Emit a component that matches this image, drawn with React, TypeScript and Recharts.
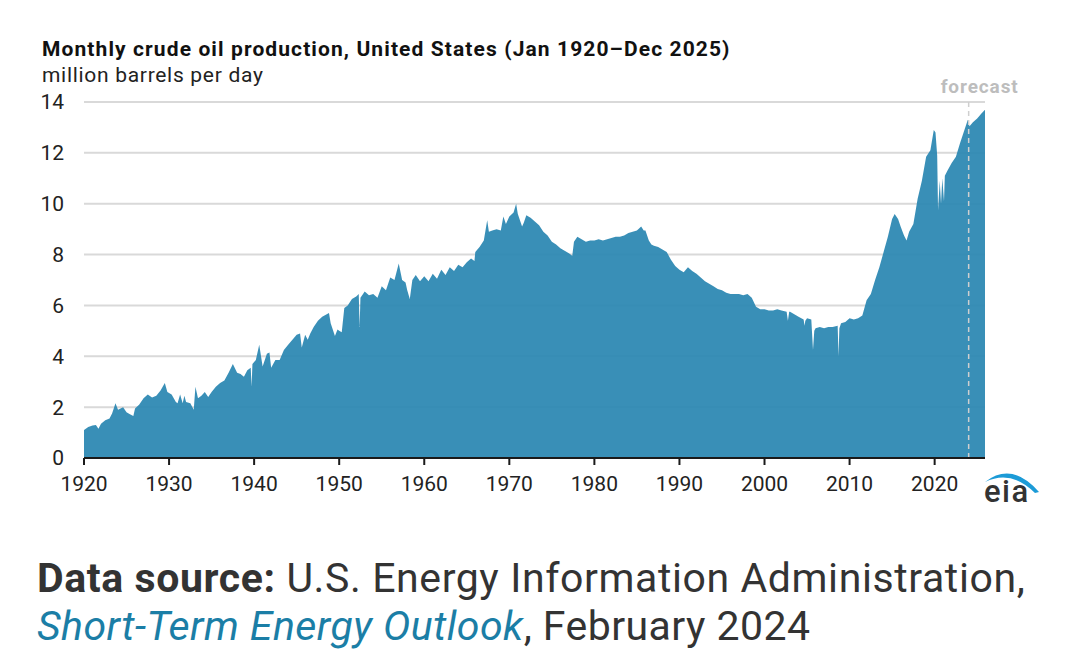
import React from 'react';
import {
  AreaChart,
  Area,
  XAxis,
  YAxis,
  CartesianGrid,
  ReferenceLine,
} from 'recharts';

// decimal years / million barrels per day
const years1920s = [
  1920.0, 1920.5, 1921.0, 1921.4, 1921.7, 1922.0, 1922.5, 1923.0, 1923.3, 1923.7,
  1924.0, 1924.3, 1924.6, 1925.0, 1925.4, 1925.8, 1926.0, 1926.5, 1927.0, 1927.5,
  1928.0, 1928.5, 1929.0, 1929.5, 1929.8, 1930.3, 1930.8, 1931.0, 1931.3, 1931.6,
  1931.8, 1932.0, 1932.5, 1932.9, 1933.1, 1933.4, 1933.8, 1934.2, 1934.6, 1935.0,
  1935.5, 1936.0, 1936.5, 1937.0, 1937.5, 1938.0, 1938.4, 1938.8, 1939.2, 1939.6,
  1939.7, 1939.8, 1940.2, 1940.6, 1941.0, 1941.5, 1941.8, 1942.0, 1942.5, 1943.0,
  1943.5, 1944.0, 1944.5, 1945.0, 1945.4, 1945.6, 1946.0, 1946.3, 1946.6, 1947.0,
  1947.5, 1948.0, 1948.8, 1949.0, 1949.5, 1949.8,
];
const prod1920s = [
  1.1, 1.22, 1.28, 1.3, 1.15, 1.35, 1.48, 1.55, 1.75, 2.15,
  1.9, 1.95, 2.0, 1.8, 1.72, 1.65, 1.95, 2.1, 2.35, 2.5,
  2.38, 2.45, 2.65, 2.95, 2.6, 2.5, 2.2, 2.15, 2.5, 2.15,
  2.45, 2.2, 2.15, 1.9, 2.8, 2.35, 2.45, 2.6, 2.4, 2.6,
  2.8, 2.95, 3.05, 3.35, 3.7, 3.35, 3.3, 3.2, 3.45, 3.55,
  2.8, 3.7, 3.85, 4.45, 3.6, 4.1, 4.15, 3.55, 3.85, 3.85,
  4.25, 4.45, 4.65, 4.85, 4.9, 4.35, 4.85, 4.65, 4.9, 5.15,
  5.4, 5.55, 5.7, 5.3, 4.8, 5.05,
];

const years1950s = [
  1950.0, 1950.3, 1950.6, 1951.0, 1951.5, 1952.0, 1952.3, 1952.4, 1952.5, 1953.0,
  1953.5, 1954.0, 1954.5, 1955.0, 1955.5, 1956.0, 1956.5, 1957.0, 1957.4, 1957.8,
  1958.0, 1958.3, 1958.6, 1959.0, 1959.5, 1960.0, 1960.5, 1961.0, 1961.5, 1962.0,
  1962.5, 1963.0, 1963.5, 1964.0, 1964.5, 1965.0, 1965.5, 1965.9, 1966.0, 1966.5,
  1967.0, 1967.4, 1967.6, 1968.0, 1968.5, 1969.0, 1969.3, 1969.6, 1970.0, 1970.5,
  1970.8, 1971.0, 1971.5, 1971.7, 1972.0, 1972.5, 1973.0, 1973.5, 1974.0, 1974.5,
  1975.0, 1975.5, 1976.0, 1976.5, 1977.0, 1977.4, 1977.6, 1978.0, 1978.5, 1979.0,
  1979.5, 1980.0, 1980.5, 1981.0, 1981.5, 1982.0, 1982.5, 1983.0, 1983.5, 1984.0,
  1984.5, 1985.0, 1985.5, 1985.8,
];
const prod1950s = [
  5.0, 4.95, 5.9, 6.0, 6.25, 6.35, 6.45, 5.15, 6.3, 6.55,
  6.4, 6.45, 6.3, 6.75, 6.6, 7.1, 7.0, 7.65, 7.0, 6.9,
  6.6, 6.25, 7.0, 7.2, 6.95, 7.15, 6.95, 7.25, 7.05, 7.4,
  7.2, 7.5, 7.35, 7.6, 7.5, 7.7, 7.85, 7.75, 8.1, 8.3,
  8.55, 9.35, 8.9, 8.95, 9.0, 8.95, 9.5, 9.2, 9.5, 9.65,
  10.0, 9.6, 9.1, 9.25, 9.55, 9.45, 9.3, 9.15, 8.9, 8.75,
  8.5, 8.4, 8.25, 8.15, 8.05, 7.95, 8.5, 8.7, 8.6, 8.5,
  8.55, 8.55, 8.6, 8.55, 8.6, 8.65, 8.7, 8.7, 8.75, 8.85,
  8.9, 8.95, 9.1, 8.95,
];

const years1986on = [
  1986.0, 1986.4, 1986.7, 1987.0, 1987.5, 1988.0, 1988.5, 1989.0, 1989.5, 1990.0,
  1990.5, 1991.0, 1991.5, 1992.0, 1992.5, 1993.0, 1993.5, 1994.0, 1994.5, 1995.0,
  1995.5, 1996.0, 1996.5, 1997.0, 1997.5, 1998.0, 1998.5, 1999.0, 1999.5, 2000.0,
  2000.5, 2001.0, 2001.5, 2002.0, 2002.6, 2002.75, 2002.9, 2003.0, 2003.5, 2004.0,
  2004.6, 2004.7, 2004.8, 2005.0, 2005.5, 2005.7, 2005.85, 2006.0, 2006.5, 2007.0,
  2007.5, 2008.0, 2008.6, 2008.7, 2008.8, 2009.0, 2009.5, 2010.0, 2010.5, 2011.0,
  2011.5, 2012.0, 2012.5, 2013.0, 2013.5, 2014.0, 2014.5, 2015.0, 2015.3, 2015.7,
  2016.0, 2016.4, 2016.7, 2017.0, 2017.5, 2018.0, 2018.5, 2019.0, 2019.5, 2019.9,
  2020.1, 2020.3, 2020.4, 2020.6, 2020.75, 2020.9, 2021.1, 2021.2, 2021.5, 2022.0,
  2022.5, 2023.0, 2023.5, 2023.9, 2024.1, 2024.5, 2025.0, 2025.5, 2025.92,
];
const prod1986on = [
  8.95, 8.55, 8.4, 8.35, 8.3, 8.2, 8.1, 7.8, 7.55, 7.4,
  7.3, 7.5, 7.35, 7.25, 7.1, 6.95, 6.85, 6.75, 6.65, 6.6,
  6.5, 6.45, 6.45, 6.45, 6.4, 6.45, 6.3, 5.95, 5.85, 5.85,
  5.8, 5.8, 5.85, 5.8, 5.75, 5.4, 5.75, 5.75, 5.65, 5.55,
  5.45, 5.2, 5.4, 5.5, 5.45, 4.25, 5.0, 5.1, 5.15, 5.1,
  5.15, 5.15, 5.2, 4.0, 5.1, 5.3, 5.35, 5.5, 5.45, 5.5,
  5.6, 6.2, 6.45, 7.0, 7.5, 8.1, 8.7, 9.4, 9.6, 9.4,
  9.1, 8.75, 8.55, 8.9, 9.2, 10.2, 10.9, 11.85, 12.1, 12.9,
  12.8, 11.9, 9.75, 10.9, 10.0, 11.0, 10.1, 11.1, 11.3, 11.6,
  11.85, 12.4, 12.9, 13.3, 13.05, 13.2, 13.35, 13.55, 13.7,
];

const yTicks = [0, 2, 4, 6, 8, 10, 12, 14];
const xTicks = [1920, 1930, 1940, 1950, 1960, 1970, 1980, 1990, 2000, 2010, 2020];
const forecastStart = 2024;

const allYears = [...years1920s, ...years1950s, ...years1986on];
const allProd = [...prod1920s, ...prod1950s, ...prod1986on];
const data = allYears.map((year, i) => ({ year, value: allProd[i] }));

const FONT = 'Roboto, "Noto Sans", sans-serif';

const ForecastLabel = (props: any) => {
  const { viewBox } = props;
  const x = viewBox ? viewBox.x : 0;
  const y = viewBox ? viewBox.y : 0;
  return (
    <text
      x={x + 11}
      y={y - 9}
      textAnchor="middle"
      fill="#bdbdbd"
      fontSize={19}
      fontWeight={700}
      letterSpacing={0.9}
      fontFamily={FONT}
    >
      forecast
    </text>
  );
};

const App: React.FC = () => {
  return (
    <div
      style={{
        position: 'absolute',
        left: 0,
        top: 0,
        width: 1080,
        height: 669,
        background: '#fff',
        fontFamily: FONT,
        overflow: 'hidden',
      }}
    >
      <div style={{ position: 'absolute', left: 42, top: 37, fontSize: 21, lineHeight: '24px', letterSpacing: 1.1, fontWeight: 700, color: '#111', whiteSpace: 'nowrap' }}>
        Monthly crude oil production, United States (Jan 1920–Dec 2025)
      </div>
      <div style={{ position: 'absolute', left: 42, top: 63, fontSize: 21, lineHeight: '24px', letterSpacing: 0.7, color: '#222', whiteSpace: 'nowrap' }}>
        million barrels per day
      </div>

      <div style={{ position: 'absolute', left: 0, top: 0 }}>
        <AreaChart
          width={1080}
          height={669}
          data={data}
          margin={{ top: 102, right: 95, bottom: 181, left: 44 }}
        >
          <CartesianGrid horizontal vertical={false} stroke="#d9d9d9" strokeWidth={2} />
          <XAxis
            dataKey="year"
            type="number"
            domain={[1920, 2025.92]}
            ticks={xTicks}
            interval={0}
            allowDataOverflow
            height={30}
            axisLine={{ stroke: '#1a1a1a', strokeWidth: 2 }}
            tickLine={{ stroke: '#1a1a1a', strokeWidth: 2 }}
            tickSize={7}
            tickMargin={11}
            tick={{ fill: '#222', fontSize: 21, fontFamily: FONT }}
          />
          <YAxis
            type="number"
            domain={[0, 14]}
            ticks={yTicks}
            interval={0}
            width={40}
            axisLine={false}
            tickLine={false}
            tickSize={6}
            tickMargin={14}
            tick={{ fill: '#222', fontSize: 21, fontFamily: FONT }}
          />
          <Area
            type="linear"
            dataKey="value"
            stroke="none"
            fill="#2a86b2"
            fillOpacity={0.93}
            isAnimationActive={false}
            dot={false}
            activeDot={false}
          />
          <ReferenceLine
            x={forecastStart}
            stroke="#cfcfcf"
            strokeWidth={1.5}
            strokeDasharray="5 4"
            label={<ForecastLabel />}
          />
        </AreaChart>
      </div>

      {/* eia logo */}
      <svg style={{ position: 'absolute', left: 975, top: 460 }} width={70} height={50}>
        <path d="M10 22 Q 37 1 64 32 L 60 33 Q 36 9 10 22 Z" fill="#1c9bd7" />
        <text x={9} y={42} fontSize={31} fontWeight={500} letterSpacing={1.5} fill="#333" fontFamily={FONT}>
          eia
        </text>
      </svg>

      <div
        style={{
          position: 'absolute',
          left: 37,
          top: 554,
          fontSize: 41,
          lineHeight: '48px',
          color: '#333',
          whiteSpace: 'nowrap',
        }}
      >
        <div style={{ letterSpacing: 0.6 }}>
          <span style={{ fontWeight: 700 }}>Data source:</span> U.S. Energy Information Administration,
        </div>
        <div style={{ letterSpacing: 0.45 }}>
          <span style={{ fontStyle: 'italic', color: '#1b7ea6' }}>Short-Term Energy Outlook</span>, February 2024
        </div>
      </div>
    </div>
  );
};

export default App;
